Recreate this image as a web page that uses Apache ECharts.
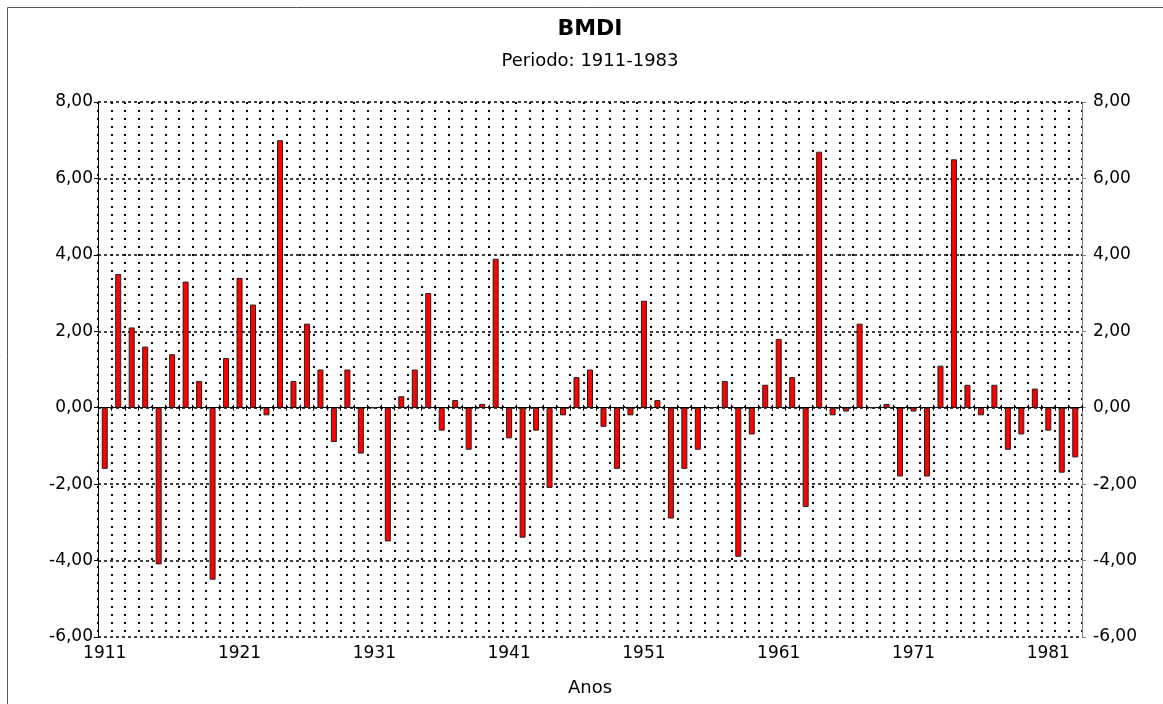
<!DOCTYPE html>
<html>
<head>
<meta charset="utf-8">
<title>BMDI</title>
<script src="https://cdn.jsdelivr.net/npm/echarts@6/dist/echarts.min.js"></script>
<style>
  html, body { margin: 0; padding: 0; background: #fff; }
  #chart { width: 1163px; height: 704px; }
</style>
</head>
<body>
<div id="chart"></div>
<script>
// anos 1911-1983
var anos = [];
for (var a = 1911; a <= 1983; a++) anos.push(String(a));

// valores BMDI
var bmdi = [
  -1.6, 3.5, 2.1, 1.6, -4.1, 1.4, 3.3, 0.7, -4.5, 1.3,
  3.4, 2.7, -0.2, 7.0, 0.7, 2.2, 1.0, -0.9, 1.0, -1.2,
  0.0, -3.5, 0.3, 1.0, 3.0, -0.6, 0.2, -1.1, 0.1, 3.9,
  -0.8, -3.4, -0.6, -2.1, -0.2, 0.8, 1.0, -0.5, -1.6, -0.2,
  2.8, 0.2, -2.9, -1.6, -1.1, 0.0, 0.7, -3.9, -0.7, 0.6,
  1.8, 0.8, -2.6, 6.7, -0.2, -0.1, 2.2, 0.0, 0.1, -1.8,
  -0.1, -1.8, 1.1, 6.5, 0.6, -0.2, 0.6, -1.1, -0.7, 0.5,
  -0.6, -1.7, -1.3
];

var yMin = -6;
var yMax = 8;
var yStep = 2;

var fonte = "'DejaVu Sans', 'Liberation Sans', sans-serif";

function formataNum(v) {
  return v.toFixed(2).replace(".", ",");
}

var chart = echarts.init(document.getElementById("chart"));

var option = {
  animation: false,
  backgroundColor: "#fff",
  title: [
    {
      text: "BMDI",
      left: 590,
      top: 18,
      padding: 0,
      textAlign: "center",
      textStyle: { fontFamily: fonte, fontSize: 22, fontWeight: "bold", color: "#000" },
    },
    {
      text: "Periodo: 1911-1983",
      left: 590,
      top: 52,
      padding: 0,
      textAlign: "center",
      textStyle: { fontFamily: fonte, fontSize: 18, fontWeight: "normal", color: "#000" },
    },
  ],
  graphic: [
    {
      type: "rect",
      shape: { x: 7.5, y: 7.5, width: 1200, height: 800 },
      style: { fill: "none", stroke: "#555", lineWidth: 1 },
      silent: true,
    },
  ],
  grid: {
    left: 98,
    right: 81,
    top: 102,
    bottom: 67,
  },
  xAxis: [
    {
      // eixo com rotulos e linhas de grade
      type: "category",
      data: anos,
      position: "bottom",
      name: "Anos",
      nameLocation: "middle",
      nameGap: 42,
      nameTextStyle: { fontFamily: fonte, fontSize: 18, color: "#000" },
      axisLine: { show: false, onZero: false },
      axisTick: { show: false },
      axisLabel: {
        interval: 9,
        margin: 8,
        fontFamily: fonte,
        fontSize: 17,
        color: "#000",
      },
      splitLine: {
        show: true,
        interval: 0,
        lineStyle: { color: "#000", width: 2, type: [2, 6] },
      },
    },
    {
      // linha do zero (marcas para baixo)
      type: "category",
      data: anos,
      position: "bottom",
      axisLine: { show: true, onZero: true, lineStyle: { color: "#000", width: 1 } },
      axisTick: { show: true, interval: 0, length: 3, lineStyle: { color: "#000" } },
      axisLabel: { show: false },
      splitLine: { show: false },
    },
    {
      // linha do zero (marcas para cima)
      type: "category",
      data: anos,
      position: "top",
      axisLine: { show: true, onZero: true, lineStyle: { color: "#000", width: 1 } },
      axisTick: { show: true, interval: 0, length: 3, lineStyle: { color: "#000" } },
      axisLabel: { show: false },
      splitLine: { show: false },
    },
  ],
  yAxis: [
    {
      type: "value",
      position: "left",
      min: yMin,
      max: yMax,
      interval: yStep,
      axisLine: { show: true, onZero: false, lineStyle: { color: "#000", width: 1 } },
      axisTick: { show: true, length: 4, lineStyle: { color: "#000" } },
      axisLabel: {
        margin: 5,
        fontFamily: fonte,
        fontSize: 17,
        color: "#000",
        formatter: formataNum,
      },
      splitLine: {
        show: true,
        lineStyle: { color: "#000", width: 1.5, type: [3, 3] },
      },
    },
    {
      type: "value",
      position: "right",
      min: yMin,
      max: yMax,
      interval: yStep,
      axisLine: { show: true, onZero: false, lineStyle: { color: "#808080", width: 1 } },
      axisTick: { show: true, length: 4, lineStyle: { color: "#808080" } },
      axisLabel: {
        margin: 11,
        fontFamily: fonte,
        fontSize: 17,
        color: "#000",
        formatter: formataNum,
      },
      splitLine: { show: false },
    },
  ],
  series: [
    {
      name: "BMDI",
      type: "bar",
      xAxisIndex: 0,
      yAxisIndex: 0,
      data: bmdi,
      barWidth: 6,
      itemStyle: {
        color: "#ff0000",
        borderColor: "#222",
        borderWidth: 1,
      },
      z: 3,
    },
  ],
};

chart.setOption(option);
</script>
</body>
</html>
